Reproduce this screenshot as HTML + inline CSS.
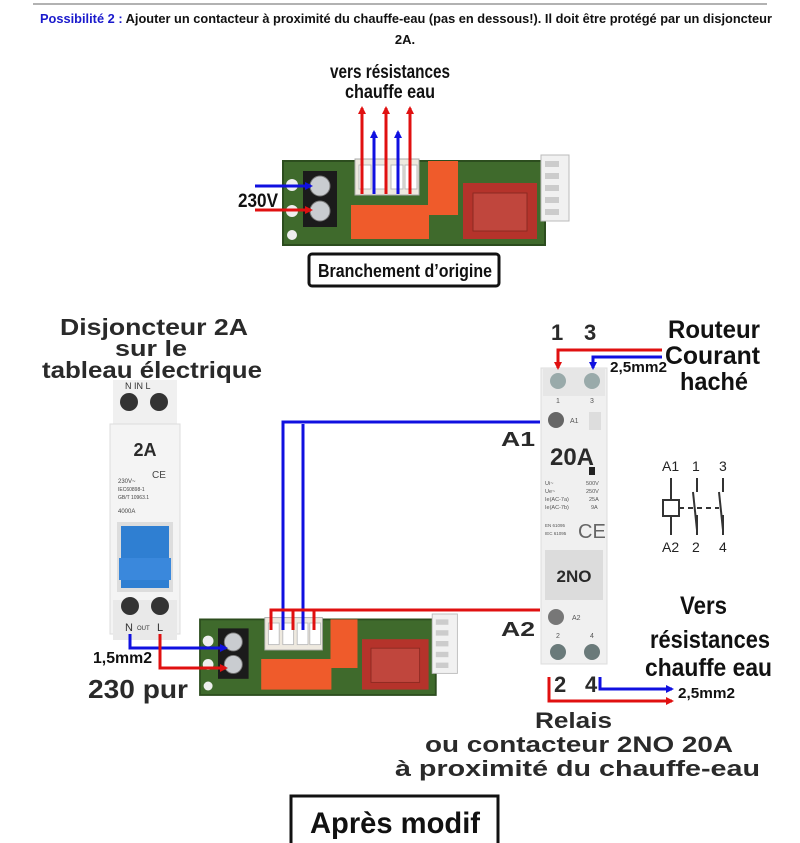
<!DOCTYPE html>
<html><head><meta charset="utf-8"><style>
html,body{margin:0;padding:0;background:#fff;}
svg{display:block;}
.t{font-family:"Liberation Sans Narrow","Liberation Sans",sans-serif;font-weight:bold;fill:#111;}
.i{font-family:"Liberation Sans",sans-serif;font-weight:bold;fill:#2a2a2a;}
</style></head><body>
<svg width="800" height="843" viewBox="0 0 800 843" xmlns="http://www.w3.org/2000/svg">
<defs>
<marker id="ar" markerWidth="8" markerHeight="8" refX="6" refY="4" orient="auto" markerUnits="userSpaceOnUse"><path d="M0,0 L8,4 L0,8z" fill="#e01010"/></marker>
<marker id="ab" markerWidth="8" markerHeight="8" refX="6" refY="4" orient="auto" markerUnits="userSpaceOnUse"><path d="M0,0 L8,4 L0,8z" fill="#1010e0"/></marker>
<g id="pcb">
<rect x="0" y="6" width="262" height="84" fill="#3f6a2c"/>
<rect x="0" y="6" width="262" height="84" fill="none" stroke="#2c4d1e" stroke-width="2"/>
<circle cx="9" cy="30" r="6" fill="#eee"/><circle cx="9" cy="56" r="6" fill="#eee"/><circle cx="9" cy="80" r="5" fill="#eee"/>
<rect x="20" y="16" width="34" height="56" fill="#1b1b1b"/>
<circle cx="37" cy="31" r="10" fill="#c9ccd0" stroke="#777"/><circle cx="37" cy="56" r="10" fill="#c9ccd0" stroke="#777"/>
<rect x="72" y="4" width="64" height="36" fill="#eee9df" stroke="#aaa"/>
<rect x="76" y="10" width="12" height="24" fill="#fff" stroke="#bbb"/><rect x="92" y="10" width="12" height="24" fill="#fff" stroke="#bbb"/><rect x="108" y="10" width="12" height="24" fill="#fff" stroke="#bbb"/><rect x="122" y="10" width="12" height="24" fill="#fff" stroke="#bbb"/>
<rect x="145" y="6" width="30" height="54" fill="#ef5b2b"/>
<rect x="68" y="50" width="78" height="34" fill="#ef5b2b"/>
<rect x="180" y="28" width="74" height="56" fill="#b5332b"/>
<rect x="190" y="38" width="54" height="38" fill="#c0463d" stroke="#8c2a22"/>
<rect x="258" y="0" width="28" height="66" fill="#f1f1f1" stroke="#bbb"/>
<rect x="262" y="6" width="14" height="6" fill="#ccc"/><rect x="262" y="18" width="14" height="6" fill="#ccc"/><rect x="262" y="30" width="14" height="6" fill="#ccc"/><rect x="262" y="42" width="14" height="6" fill="#ccc"/><rect x="262" y="54" width="14" height="6" fill="#ccc"/>
</g>
</defs>

<line x1="33" y1="4" x2="767" y2="4" stroke="#999" stroke-width="1.5"/>
<text x="40" y="23" class="t" font-size="13" textLength="732" lengthAdjust="spacingAndGlyphs"><tspan fill="#1a1acc">Possibilité 2 :</tspan> Ajouter un contacteur à proximité du chauffe-eau (pas en dessous!). Il doit être protégé par un disjoncteur</text>
<text x="405" y="44" text-anchor="middle" class="t" font-size="13">2A.</text>

<!-- top section -->
<text x="330" y="78" class="t" font-size="19" textLength="120" lengthAdjust="spacingAndGlyphs">vers résistances</text>
<text x="345" y="98" class="t" font-size="19" textLength="90" lengthAdjust="spacingAndGlyphs">chauffe eau</text>
<use href="#pcb" transform="translate(283,155)"/>
<g stroke-width="3" fill="none">
<line x1="362" y1="194" x2="362" y2="108" stroke="#e01010" marker-end="url(#ar)"/>
<line x1="386" y1="194" x2="386" y2="108" stroke="#e01010" marker-end="url(#ar)"/>
<line x1="410" y1="194" x2="410" y2="108" stroke="#e01010" marker-end="url(#ar)"/>
<line x1="374" y1="194" x2="374" y2="132" stroke="#1010e0" marker-end="url(#ab)"/>
<line x1="398" y1="194" x2="398" y2="132" stroke="#1010e0" marker-end="url(#ab)"/>
<line x1="255" y1="186" x2="311" y2="186" stroke="#1010e0" marker-end="url(#ab)"/>
<line x1="255" y1="210" x2="311" y2="210" stroke="#e01010" marker-end="url(#ar)"/>
</g>
<text x="238" y="207" class="t" font-size="19" textLength="40" lengthAdjust="spacingAndGlyphs">230V</text>
<rect x="309" y="254" width="190" height="32" rx="3" fill="#fff" stroke="#111" stroke-width="3"/>
<text x="318" y="277" class="t" font-size="18" textLength="174" lengthAdjust="spacingAndGlyphs">Branchement d’origine</text>

<!-- breaker -->
<text x="60" y="335" class="i" font-size="23" textLength="188" lengthAdjust="spacingAndGlyphs">Disjoncteur 2A</text>
<text x="115" y="356" class="i" font-size="22" textLength="72" lengthAdjust="spacingAndGlyphs">sur le</text>
<text x="42" y="378" class="i" font-size="23" textLength="220" lengthAdjust="spacingAndGlyphs">tableau électrique</text>
<rect x="113" y="380" width="64" height="44" fill="#f0f0f0"/>
<rect x="110" y="424" width="70" height="210" fill="#f4f4f4" stroke="#ddd"/>
<rect x="113" y="600" width="64" height="40" fill="#e9e9e9"/>
<circle cx="129" cy="402" r="9" fill="#333"/><circle cx="159" cy="402" r="9" fill="#333"/>
<text x="125" y="389" font-family="Liberation Sans" font-size="9" fill="#333">N IN L</text>
<text x="145" y="456" text-anchor="middle" class="i" font-size="18" fill="#222">2A</text>
<text x="118" y="483" font-family="Liberation Sans" font-size="6" fill="#444">230V~</text>
<text x="152" y="478" font-family="Liberation Sans" font-size="10" fill="#444">CE</text>
<text x="118" y="491" font-family="Liberation Sans" font-size="5" fill="#444">IEC60898-1</text>
<text x="118" y="499" font-family="Liberation Sans" font-size="5" fill="#444">GB/T 10963.1</text>
<text x="118" y="513" font-family="Liberation Sans" font-size="6" fill="#444">4000A</text>
<rect x="117" y="522" width="56" height="70" fill="#ddd"/>
<rect x="121" y="526" width="48" height="62" fill="#2f7fd2"/>
<rect x="119" y="558" width="52" height="22" fill="#3a88dc"/>
<circle cx="130" cy="606" r="9" fill="#333"/><circle cx="160" cy="606" r="9" fill="#333"/>
<text x="125" y="631" font-family="Liberation Sans" font-size="11" fill="#333">N</text><text x="137" y="630" font-family="Liberation Sans" font-size="6" fill="#333">OUT</text><text x="157" y="631" font-family="Liberation Sans" font-size="11" fill="#333">L</text>

<!-- bottom pcb -->
<use href="#pcb" transform="translate(200,614) scale(0.9)"/>
<g stroke-width="3" fill="none">
<polyline points="130,634 130,648 226,648" stroke="#1010e0" marker-end="url(#ab)"/>
<polyline points="160,634 160,668 226,668" stroke="#e01010" marker-end="url(#ar)"/>
<polyline points="283,630 283,422 540,422" stroke="#1010e0"/>
<polyline points="303,630 303,424" stroke="#1010e0"/>
<polyline points="271,630 271,610 540,610" stroke="#e01010"/>
<line x1="293" y1="610" x2="293" y2="630" stroke="#e01010"/>
<line x1="314" y1="610" x2="314" y2="630" stroke="#e01010"/>
</g>
<text x="93" y="663" class="t" font-size="16" textLength="59" lengthAdjust="spacingAndGlyphs">1,5mm2</text>
<text x="88" y="698" class="i" font-size="26" textLength="100" lengthAdjust="spacingAndGlyphs">230 pur</text>

<!-- contactor -->
<rect x="541" y="368" width="66" height="296" fill="#f0f0f0" stroke="#ddd"/>
<rect x="543" y="368" width="62" height="28" fill="#e6e6e6"/>
<circle cx="558" cy="381" r="8" fill="#9aa"/><circle cx="592" cy="381" r="8" fill="#9aa"/>
<text x="556" y="403" font-family="Liberation Sans" font-size="7" fill="#555">1</text><text x="590" y="403" font-family="Liberation Sans" font-size="7" fill="#555">3</text>
<circle cx="556" cy="420" r="8" fill="#666"/><text x="570" y="423" font-family="Liberation Sans" font-size="7" fill="#555">A1</text>
<rect x="589" y="412" width="12" height="18" fill="#ddd"/>
<text x="550" y="465" class="i" font-size="24" fill="#222" textLength="44" lengthAdjust="spacingAndGlyphs">20A</text>
<rect x="589" y="467" width="6" height="8" fill="#222"/>
<text x="545" y="485" font-family="Liberation Sans" font-size="5.5" fill="#555">Ui~</text><text x="545" y="493" font-family="Liberation Sans" font-size="5.5" fill="#555">Ue~</text>
<text x="545" y="501" font-family="Liberation Sans" font-size="5.5" fill="#555">Ie(AC-7a)</text><text x="545" y="509" font-family="Liberation Sans" font-size="5.5" fill="#555">Ie(AC-7b)</text>
<text x="586" y="485" font-family="Liberation Sans" font-size="5.5" fill="#555">500V</text><text x="586" y="493" font-family="Liberation Sans" font-size="5.5" fill="#555">250V</text>
<text x="589" y="501" font-family="Liberation Sans" font-size="5.5" fill="#555">25A</text><text x="591" y="509" font-family="Liberation Sans" font-size="5.5" fill="#555">9A</text>
<text x="545" y="527" font-family="Liberation Sans" font-size="4.5" fill="#555">EN 61095</text><text x="545" y="535" font-family="Liberation Sans" font-size="4.5" fill="#555">IEC 61095</text>
<text x="578" y="538" font-family="Liberation Sans" font-size="20" fill="#666">CE</text>
<rect x="545" y="550" width="58" height="50" fill="#dcdcdc"/>
<text x="574" y="582" text-anchor="middle" class="i" font-size="17" fill="#e02020">2NO</text>
<circle cx="556" cy="617" r="8" fill="#777"/><text x="572" y="620" font-family="Liberation Sans" font-size="7" fill="#555">A2</text>
<text x="556" y="638" font-family="Liberation Sans" font-size="7" fill="#555">2</text><text x="590" y="638" font-family="Liberation Sans" font-size="7" fill="#555">4</text>
<circle cx="558" cy="652" r="8" fill="#6a7a7a"/><circle cx="592" cy="652" r="8" fill="#6a7a7a"/>

<text x="501" y="446" class="i" font-size="20" fill="#111" textLength="34" lengthAdjust="spacingAndGlyphs">A1</text>
<text x="501" y="636" class="i" font-size="20" fill="#111" textLength="34" lengthAdjust="spacingAndGlyphs">A2</text>

<text x="551" y="340" class="i" font-size="22" fill="#111">1</text>
<text x="584" y="340" class="i" font-size="22" fill="#111">3</text>
<g stroke-width="3" fill="none">
<polyline points="662,350 558,350 558,368" stroke="#e01010" marker-end="url(#ar)"/>
<polyline points="662,357 593,357 593,368" stroke="#1010e0" marker-end="url(#ab)"/>
<polyline points="549,677 549,701 672,701" stroke="#e01010" marker-end="url(#ar)"/>
<polyline points="600,677 600,689 672,689" stroke="#1010e0" marker-end="url(#ab)"/>
</g>
<text x="610" y="372" class="t" font-size="15" textLength="57" lengthAdjust="spacingAndGlyphs">2,5mm2</text>
<text x="668" y="338" class="t" font-size="25" textLength="92" lengthAdjust="spacingAndGlyphs">Routeur</text>
<text x="665" y="364" class="t" font-size="25" textLength="95" lengthAdjust="spacingAndGlyphs">Courant</text>
<text x="680" y="390" class="t" font-size="25" textLength="68" lengthAdjust="spacingAndGlyphs">haché</text>

<!-- symbol -->
<g stroke="#333" stroke-width="2" fill="none">
<line x1="671" y1="478" x2="671" y2="500"/><rect x="663" y="500" width="16" height="16"/><line x1="671" y1="516" x2="671" y2="535"/>
<line x1="697" y1="478" x2="697" y2="492"/><line x1="693" y1="492" x2="697" y2="530"/><line x1="697" y1="515" x2="697" y2="535"/>
<line x1="723" y1="478" x2="723" y2="492"/><line x1="719" y1="492" x2="723" y2="530"/><line x1="723" y1="515" x2="723" y2="535"/>
<line x1="679" y1="508" x2="719" y2="508" stroke-dasharray="5,4"/>
</g>
<text x="662" y="471" font-family="Liberation Sans" font-size="14" fill="#222">A1</text>
<text x="692" y="471" font-family="Liberation Sans" font-size="14" fill="#222">1</text>
<text x="719" y="471" font-family="Liberation Sans" font-size="14" fill="#222">3</text>
<text x="662" y="552" font-family="Liberation Sans" font-size="14" fill="#222">A2</text>
<text x="692" y="552" font-family="Liberation Sans" font-size="14" fill="#222">2</text>
<text x="719" y="552" font-family="Liberation Sans" font-size="14" fill="#222">4</text>

<text x="554" y="692" class="i" font-size="22" fill="#111">2</text>
<text x="585" y="692" class="i" font-size="22" fill="#111">4</text>
<text x="678" y="698" class="t" font-size="15" textLength="57" lengthAdjust="spacingAndGlyphs">2,5mm2</text>
<text x="680" y="614" class="t" font-size="25" textLength="47" lengthAdjust="spacingAndGlyphs">Vers</text>
<text x="650" y="648" class="t" font-size="25" textLength="120" lengthAdjust="spacingAndGlyphs">résistances</text>
<text x="645" y="676" class="t" font-size="25" textLength="127" lengthAdjust="spacingAndGlyphs">chauffe eau</text>

<text x="535" y="728" class="i" font-size="22" textLength="77" lengthAdjust="spacingAndGlyphs">Relais</text>
<text x="425" y="752" class="i" font-size="22" textLength="308" lengthAdjust="spacingAndGlyphs">ou contacteur 2NO 20A</text>
<text x="395" y="776" class="i" font-size="22" textLength="365" lengthAdjust="spacingAndGlyphs">à proximité du chauffe-eau</text>

<rect x="291" y="796" width="207" height="52" fill="#fff" stroke="#111" stroke-width="3"/>
<text x="310" y="833" class="t" font-size="30" textLength="170" lengthAdjust="spacingAndGlyphs">Après modif</text>
</svg>
</body></html>
